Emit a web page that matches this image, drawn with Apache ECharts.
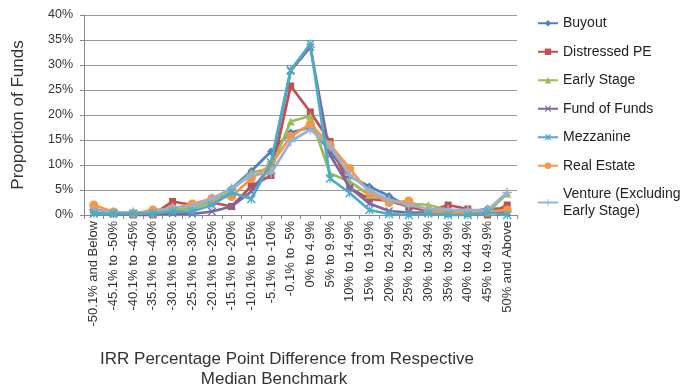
<!DOCTYPE html>
<html>
<head>
<meta charset="utf-8">
<script src="https://cdn.jsdelivr.net/npm/echarts@6/dist/echarts.min.js"></script>
<style>
html,body{margin:0;padding:0;background:#fff;}
#chart{width:683px;height:391px;}
</style>
</head>
<body>
<div id="chart"></div>
<script>
const categories = ["-50.1% and Below","-45.1% to -50%","-40.1% to -45%","-35.1% to -40%","-30.1% to -35%","-25.1% to -30%","-20.1% to -25%","-15.1% to -20%","-10.1% to -15%","-5.1% to -10%","-0.1% to -5%","0% to 4.9%","5% to 9.9%","10% to 14.9%","15% to 19.9%","20% to 24.9%","25% to 29.9%","30% to 34.9%","35% to 39.9%","40% to 44.9%","45% to 49.9%","50% and Above"];
const buyout      = [0.5,0.3,0.3,0.3,1.0,1.3,2.7,5.3,8.8,12.7,16.5,17.5,12.7,7.7,5.7,3.8,1.5,1.0,0.5,0.5,1.3,1.3];
const distressed  = [1.2,0.3,0.0,0.0,2.7,2.0,2.5,1.7,5.8,7.9,25.8,20.6,14.7,5.4,3.2,2.8,1.7,0.7,2.0,1.2,0.0,2.0];
const earlyStage  = [0.8,0.3,0.5,0.3,1.0,1.3,2.7,5.0,8.5,9.3,18.7,19.8,8.3,6.7,4.0,3.0,2.3,2.0,1.0,1.0,0.5,4.3];
const fundOfFunds = [0.3,0.2,0.2,0.2,0.3,0.2,0.7,1.7,4.7,10.0,28.8,33.6,12.0,5.5,2.3,0.8,0.5,0.5,0.3,0.3,0.5,0.5];
const mezzanine   = [0.3,0.3,0.3,0.3,0.7,0.7,2.0,4.5,3.2,10.5,29.0,34.2,7.3,4.4,1.0,0.2,0.0,0.3,0.0,0.0,0.5,0.0];
const realEstate  = [2.0,0.6,0.3,1.0,1.3,2.2,3.3,3.7,7.3,10.0,15.7,18.2,14.0,9.3,4.5,2.5,2.8,0.7,0.5,0.5,0.7,1.0];
const venture     = [1.0,0.5,0.5,0.5,1.5,1.7,3.3,5.3,8.0,8.3,14.7,17.1,13.7,8.0,5.0,3.0,2.0,1.2,1.0,1.0,1.0,4.5];
const yTicks = [0,5,10,15,20,25,30,35,40];
const seriesNames = ["Buyout","Distressed PE","Early Stage","Fund of Funds","Mezzanine","Real Estate","Venture (Excluding Early Stage)"];
const xTitleLines = ["IRR Percentage Point Difference from Respective","Median Benchmark"];

const FONT = "'Liberation Sans', Arial, sans-serif";
const colors = ['#4F81BD','#C0504D','#9BBB59','#8064A2','#4BACC6','#F79646','#95B3D7'];
const xSym = 'path://M0,1.2L1.2,0L5,3.8L8.8,0L10,1.2L6.2,5L10,8.8L8.8,10L5,6.2L1.2,10L0,8.8L3.8,5Z';
const starSym = 'path://M0,1.2L1.2,0L5,3.8L8.8,0L10,1.2L6.2,5L10,8.8L8.8,10L5,6.2L1.2,10L0,8.8L3.8,5ZM4.4,0H5.6V10H4.4Z';
const plusSym = 'path://M4.3,0H5.7V4.3H10V5.7H5.7V10H4.3V5.7H0V4.3H4.3Z';
const symbols = ['diamond','rect','triangle',xSym,starSym,'circle',plusSym];
const sizes = [8,7,8,8,9,9,10];
const dataSets = [buyout,distressed,earlyStage,fundOfFunds,mezzanine,realEstate,venture];
const titleStyle = {fontFamily:FONT,fontSize:17,fontWeight:'normal',color:'#333'};

const chart = echarts.init(document.getElementById('chart'));
chart.setOption({
  animation:false,
  color: colors,
  textStyle:{fontFamily:FONT},
  grid:{left:84,right:166,top:15,bottom:176},
  title:[
    {text:xTitleLines[0], left:287, top:351, textAlign:'center', padding:0, textStyle:titleStyle},
    {text:xTitleLines[1], left:274, top:371, textAlign:'center', padding:0, textStyle:titleStyle}
  ],
  legend:{
    orient:'vertical', left:537, top:15, padding:0, itemGap:12, itemWidth:20, itemHeight:8,
    textStyle:{fontFamily:FONT,fontSize:14,color:'#222',lineHeight:16.5},
    formatter: n => n === 'Venture (Excluding Early Stage)' ? 'Venture (Excluding\nEarly Stage)' : n,
    data: seriesNames
  },
  xAxis:{
    type:'category', data:categories, boundaryGap:true,
    axisLine:{lineStyle:{color:'#888',width:1}},
    axisTick:{show:true,length:4,lineStyle:{color:'#888'}},
    axisLabel:{rotate:90,interval:0,margin:6,fontSize:13,color:'#333',fontFamily:FONT}
  },
  yAxis:{
    type:'value', min:0, max:40, interval:5,
    name:'Proportion of Funds', nameLocation:'middle', nameGap:57,
    nameTextStyle:{fontFamily:FONT,fontSize:17,color:'#333'},
    axisLine:{show:true,lineStyle:{color:'#888'}},
    axisTick:{show:true,length:4,lineStyle:{color:'#888'}},
    splitLine:{lineStyle:{color:'#999',width:1}},
    axisLabel:{formatter: v => yTicks.includes(v) ? v + '%' : '', fontSize:12.5,color:'#333',fontFamily:FONT,margin:11}
  },
  series: seriesNames.map((n,i)=>({
    name:n, type:'line', data:dataSets[i],
    symbol:symbols[i], symbolSize:sizes[i], showAllSymbol:true,
    lineStyle:{width:2.75,color:colors[i]},
    itemStyle:{color:colors[i]},
    z: i===4 ? 10 : 2+i
  }))
});
</script>
</body>
</html>
